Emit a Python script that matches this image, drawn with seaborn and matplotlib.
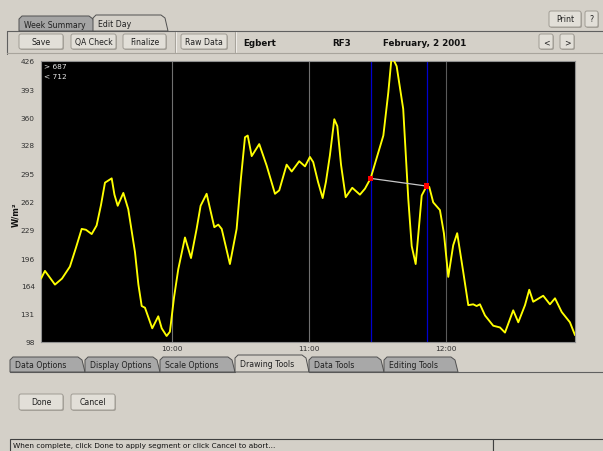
import numpy as np
import pandas as pd
import matplotlib
matplotlib.use("Agg")
import matplotlib.pyplot as plt
from matplotlib.patches import Polygon, Rectangle, FancyBboxPatch
import seaborn as sns

# ---------------- data ----------------
hours = [9.044, 9.073, 9.146, 9.197, 9.255, 9.299, 9.341, 9.372, 9.414, 9.450,
         9.482, 9.511, 9.560, 9.580, 9.604, 9.645, 9.681, 9.730, 9.755, 9.779,
         9.803, 9.856, 9.900, 9.925, 9.961, 9.985, 10.015, 10.046, 10.095, 10.139,
         10.180, 10.209, 10.253, 10.309, 10.338, 10.363, 10.423, 10.472, 10.504, 10.533,
         10.553, 10.582, 10.637, 10.691, 10.752, 10.783, 10.837, 10.874, 10.929, 10.971,
         11.007, 11.031, 11.066, 11.100, 11.124, 11.153, 11.185, 11.207, 11.234, 11.268,
         11.316, 11.372, 11.409, 11.450, 11.489, 11.543, 11.579, 11.604, 11.640, 11.664,
         11.688, 11.725, 11.750, 11.779, 11.799, 11.823, 11.859, 11.878, 11.907, 11.956,
         11.985, 12.017, 12.053, 12.082, 12.126, 12.163, 12.199, 12.224, 12.248, 12.285,
         12.345, 12.394, 12.431, 12.491, 12.528, 12.577, 12.608, 12.637, 12.710, 12.759,
         12.796, 12.845, 12.905, 12.942]
wm2 = [172, 181, 165, 172, 186, 208, 230, 229, 224, 234,
       258, 284, 289, 270, 257, 272, 253, 203, 165, 140,
       138, 114, 128, 114, 105, 110, 150, 183, 220, 196,
       230, 257, 271, 232, 235, 230, 189, 230, 290, 337,
       339, 315, 329, 304, 271, 275, 305, 297, 309, 303,
       314, 308, 285, 266, 285, 316, 358, 350, 305, 267,
       278, 270, 277, 289, 310, 339, 389, 432, 420, 395,
       370, 265, 210, 189, 225, 269, 280, 279, 261, 252,
       225, 174, 211, 225, 180, 141, 142, 140, 142, 129,
       117, 115, 109, 135, 121, 141, 159, 145, 152, 142,
       149, 133, 121, 106]

segment_hours = [11.450, 11.859]
segment_values = [289, 280]

grid_hours = [10, 11, 12]
x_tick_labels = ["10:00", "11:00", "12:00"]
y_ticks = [98, 131, 164, 196, 229, 262, 295, 328, 360, 393, 426]
y_tick_labels = ["98", "131", "164", "196", "229", "262", "295", "328", "360", "393", "426"]
x_range = [9.044, 12.942]
y_range = [98, 426]

bottom_tabs = ["Data Options", "Display Options", "Scale Options",
               "Drawing Tools", "Data Tools", "Editing Tools"]
toolbar_buttons = ["Save", "QA Check", "Finalize", "Raw Data"]

# ---------------- figure ----------------
BG = "#d4d0c8"
W, H = 603, 452
sns.set_style("white")
plt.rcParams["font.family"] = ["DejaVu Sans"]

fig = plt.figure(figsize=(W / 100, H / 100), dpi=100, facecolor=BG)
ui = fig.add_axes([0, 0, 1, 1], zorder=0)
ui.set_xlim(0, W)
ui.set_ylim(H, 0)
ui.axis("off")
ui.set_facecolor(BG)


def button(x0, y0, x1, y1, label, fs=5.6):
    ui.add_patch(FancyBboxPatch((x0 + 1, y0 + 1), x1 - x0, y1 - y0,
                                boxstyle="round,pad=0,rounding_size=2",
                                fc="#a8a49c", ec="none", zorder=1))
    ui.add_patch(FancyBboxPatch((x0, y0), x1 - x0, y1 - y0,
                                boxstyle="round,pad=0,rounding_size=2",
                                fc="#e2dfd8", ec="#a09c94", lw=0.7, zorder=2))
    ui.text((x0 + x1) / 2, (y0 + y1) / 2, label, ha="center", va="center",
            fontsize=fs, color="#202020", zorder=3)


def tab(x0, x1, y0, y1, label, face, fs=5.6):
    pts = [(x0, y1), (x0, y0 + 3), (x0 + 3, y0), (x1 - 7, y0), (x1 - 3, y0 + 3), (x1, y1)]
    ui.add_patch(Polygon(pts, closed=True, fc=face, ec="#505050", lw=0.7, zorder=2))
    ui.text(x0 + 5, (y0 + y1) / 2 + 0.5, label, ha="left", va="center",
            fontsize=fs, color="#202020", zorder=3)


# top tabs
tab(19, 96, 17, 32, "Week Summary", "#a4a4a4")
tab(93, 168, 16, 32, "Edit Day", BG)
ui.plot([7, W], [32, 32], color="#606060", lw=0.8, zorder=1)
ui.plot([7, 7], [32, 55], color="#606060", lw=0.8, zorder=1)

# print / help
button(549, 12, 581, 28, "Print")
button(585, 12, 598, 28, "?")

# toolbar
tb_x = [(19, 63), (71, 116), (123, 166), (181, 227)]
for (a, b), lab in zip(tb_x, toolbar_buttons):
    button(a, 35, b, 50, lab)
for xs in (175, 235):
    ui.plot([xs, xs], [33, 53], color="#a8a49c", lw=0.8, zorder=1)
    ui.plot([xs + 1, xs + 1], [33, 53], color="#f4f2ee", lw=0.6, zorder=1)
ui.plot([7, W], [53.5, 53.5], color="#a8a49c", lw=0.8, zorder=1)
ui.text(243, 44, "Egbert", fontsize=6.3, weight="bold", va="center", color="#101010")
ui.text(332, 44, "RF3", fontsize=6.3, weight="bold", va="center", color="#101010")
ui.text(383, 44, "February, 2 2001", fontsize=6.3, weight="bold", va="center", color="#101010")
button(539, 35, 553, 50, "<")
button(560, 35, 574, 50, ">")

# bottom tabs
bt_x = [(10, 85), (85, 160), (160, 235), (235, 309), (309, 384), (384, 458)]
for (a, b), lab in zip(bt_x, bottom_tabs):
    active = lab == "Drawing Tools"
    tab(a, b, 356 if active else 358, 373, lab, BG if active else "#a8a8a8")
ui.plot([458, W], [373, 373], color="#606060", lw=0.8, zorder=1)
ui.plot([10, 235], [373, 373], color="#606060", lw=0.8, zorder=1)
ui.plot([309, 458], [373, 373], color="#606060", lw=0.8, zorder=1)

button(19, 395, 63, 411, "Done")
button(71, 395, 115, 411, "Cancel")

# status bar
ui.add_patch(Rectangle((10, 440), 483, 14, fc=BG, ec="#404040", lw=0.8, zorder=2))
ui.add_patch(Rectangle((493, 440), 112, 14, fc=BG, ec="#404040", lw=0.8, zorder=2))
ui.text(13, 446.5, "When complete, click Done to apply segment or click Cancel to abort...",
        fontsize=5.3, va="center", color="#101010", zorder=3)

# ---------------- chart ----------------
L, R, T, B = 41, 575, 62, 343
ax = fig.add_axes([L / W, (H - B) / H, (R - L) / W, (B - T) / H], zorder=5)
ax.set_facecolor("black")

df = pd.DataFrame({"hour": hours, "wm2": wm2})
seg = pd.DataFrame({"hour": segment_hours, "wm2": segment_values})

for g in grid_hours:
    ax.axvline(g, color="#707070" if g < 12 else "#5a5a5a", lw=0.8, zorder=1)
for sh in segment_hours:
    ax.axvline(sh, color="#0000d0", lw=0.9, zorder=1)

sns.lineplot(data=df, x="hour", y="wm2", ax=ax, color="#ffff00", lw=1.35,
             estimator=None, sort=True, zorder=3)
sns.lineplot(data=seg, x="hour", y="wm2", ax=ax, color="#c8c8c8", lw=0.9,
             estimator=None, zorder=4)
sns.scatterplot(data=seg, x="hour", y="wm2", ax=ax, color="#ff0000", marker="s",
                s=14, edgecolor="none", zorder=5)

ax.set_xlim(*x_range)
ax.set_ylim(*y_range)
ax.set_xticks(grid_hours)
ax.set_xticklabels(x_tick_labels, fontsize=5.3, color="#303030")
ax.set_yticks(y_ticks)
ax.set_yticklabels(y_tick_labels, fontsize=5.3, color="#303030")
ax.tick_params(axis="y", length=3, width=0.6, color="#505050", pad=1.5)
ax.tick_params(axis="x", length=0, pad=2)
ax.set_xlabel("")
ax.set_ylabel("")
for s in ax.spines.values():
    s.set_color("#909090")
    s.set_linewidth(0.8)

ax.text(0.006, 0.992, "> 687", transform=ax.transAxes, fontsize=5.3, color="#e8e8e8",
        va="top", ha="left")
ax.text(0.006, 0.958, "< 712", transform=ax.transAxes, fontsize=5.3, color="#e8e8e8",
        va="top", ha="left")

fig.text(16 / W, 1 - 215 / H, "W/m²", rotation=90, fontsize=6.0, weight="bold",
         ha="center", va="center", color="#101010")

fig.savefig("out.png", dpi=100, facecolor=BG)
